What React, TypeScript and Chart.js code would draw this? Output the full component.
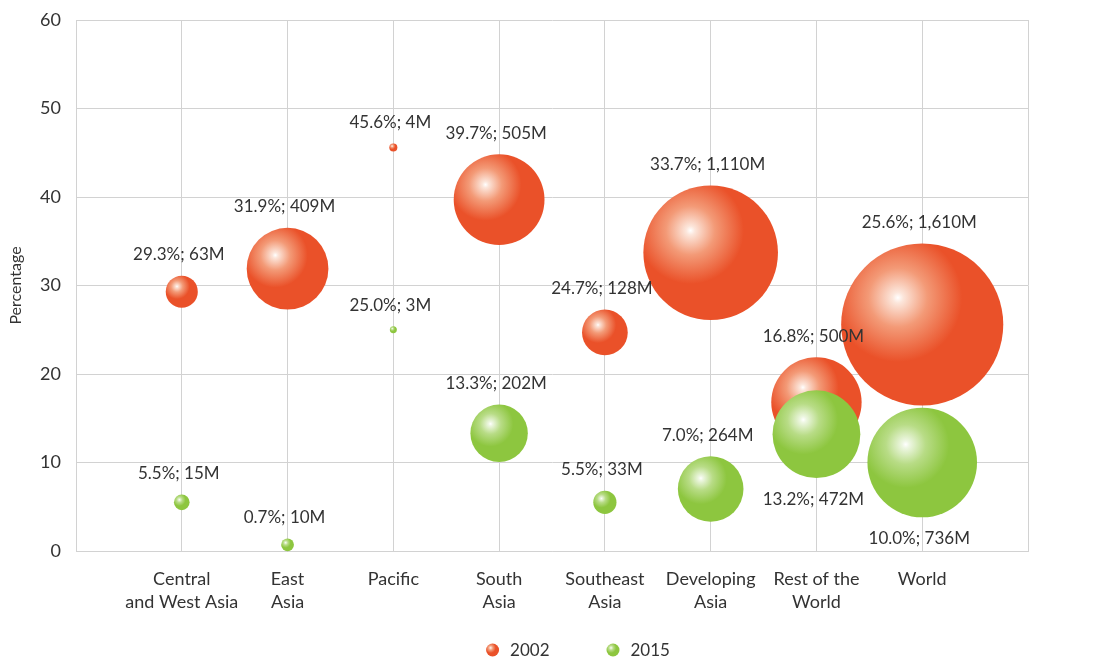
import React, { useEffect, useRef } from "react";
import { Chart, registerables } from "chart.js";

Chart.register(...registerables);

const categories: string[][] = [
  ["Central", "and West Asia"],
  ["East", "Asia"],
  ["Pacific"],
  ["South", "Asia"],
  ["Southeast", "Asia"],
  ["Developing", "Asia"],
  ["Rest of the", "World"],
  ["World"],
];
const pct2002 = [29.3, 31.9, 45.6, 39.7, 24.7, 33.7, 16.8, 25.6];
const pop2002 = [63, 409, 4, 505, 128, 1110, 500, 1610];
const pct2015 = [5.5, 0.7, 25.0, 13.3, 5.5, 7.0, 13.2, 10.0];
const pop2015 = [15, 10, 3, 202, 33, 264, 472, 736];
const yTicks = [0, 10, 20, 30, 40, 50, 60];
const seriesNames = ["2002", "2015"];

const RED = "#EA5129";
const GREEN = "#8DC63F";
const RED_STOPS = ["#FFFFFF", "#FCE6DB", "#F39A77", RED];
const GREEN_STOPS = ["#FFFFFF", "#EEF7E3", "#B8DC86", GREEN];
const FONT = "Lato, 'Open Sans', sans-serif";
const TEXT = "#333333";
const GRID = "#D2D2D2";

// labels drawn under the bubble instead of over it (series index -> category indexes)
const labelsBelow: Record<number, number[]> = { 1: [6, 7] };

const bubbleRadius = (pop: number) => 2.02 * Math.sqrt(pop);

function makeGradient(ctx: CanvasRenderingContext2D, x: number, y: number, r: number, stops: string[]) {
  const base = stops[stops.length - 1];
  if (![x, y, r].every((v) => Number.isFinite(v)) || r <= 0) return base;
  const gx = x - 0.3 * r;
  const gy = y - 0.33 * r;
  const g = ctx.createRadialGradient(gx, gy, 0, gx, gy, r * 1.1);
  g.addColorStop(0, stops[0]);
  g.addColorStop(0.06, stops[1]);
  g.addColorStop(0.33, stops[2]);
  g.addColorStop(0.72, base);
  g.addColorStop(1, base);
  return g;
}

function scriptableBg(stops: string[]) {
  const base = stops[stops.length - 1];
  return (c: any) => {
    if (c.type !== "data" || !c.raw) return base;
    const chart = c.chart;
    const xs = chart.scales && chart.scales.x;
    const ys = chart.scales && chart.scales.y;
    if (!xs || !ys) return base;
    const px = xs.getPixelForValue(c.raw.x);
    const py = ys.getPixelForValue(c.raw.y);
    return makeGradient(chart.ctx, px, py, c.raw.r, stops);
  };
}

const fmtLabel = (p: number, pop: number) => `${p.toFixed(1)}%; ${pop.toLocaleString("en-US")}M`;

const labelPlugin = {
  id: "bubbleLabels",
  afterDatasetsDraw(chart: any) {
    const ctx = chart.ctx as CanvasRenderingContext2D;
    ctx.save();
    ctx.font = `17px ${FONT}`;
    ctx.fillStyle = TEXT;
    ctx.textAlign = "center";
    ctx.textBaseline = "middle";
    const sets = [
      { pct: pct2002, pop: pop2002 },
      { pct: pct2015, pop: pop2015 },
    ];
    sets.forEach((s, di) => {
      const meta = chart.getDatasetMeta(di);
      meta.data.forEach((el: any, i: number) => {
        const r = bubbleRadius(s.pop[i]);
        const below = (labelsBelow[di] || []).includes(i);
        const gap = 21;
        const y = below ? el.y + r + gap : el.y - r - gap;
        ctx.fillText(fmtLabel(s.pct[i], s.pop[i]), el.x - 3, y);
      });
    });
    ctx.restore();
  },
};

const legendPlugin = {
  id: "customLegend",
  afterDraw(chart: any) {
    const ctx = chart.ctx as CanvasRenderingContext2D;
    ctx.save();
    ctx.font = `17px ${FONT}`;
    ctx.textBaseline = "middle";
    const stops = [RED_STOPS, GREEN_STOPS];
    const y = 650;
    const circleW = 13;
    const gapIcon = 11;
    const gapItems = 57;
    let total = 0;
    seriesNames.forEach((n, i) => {
      total += circleW + gapIcon + ctx.measureText(n).width + (i < seriesNames.length - 1 ? gapItems : 0);
    });
    let x = (chart.width - total) / 2 + 18;
    seriesNames.forEach((n, i) => {
      const r = 6.5;
      const cx = x + r;
      ctx.beginPath();
      ctx.arc(cx, y, r, 0, Math.PI * 2);
      ctx.fillStyle = makeGradient(ctx, cx, y, r, stops[i]) as any;
      ctx.fill();
      ctx.fillStyle = TEXT;
      ctx.textAlign = "left";
      ctx.fillText(n, x + circleW + gapIcon, y + 1);
      x += circleW + gapIcon + ctx.measureText(n).width + gapItems;
    });
    ctx.restore();
  },
};

export default function App() {
  const ref = useRef<HTMLCanvasElement | null>(null);
  useEffect(() => {
    if (!ref.current) return;
    const chart = new Chart(ref.current, {
      type: "bubble",
      data: {
        datasets: [
          {
            label: seriesNames[0],
            data: pct2002.map((p, i) => ({ x: i, y: p, r: bubbleRadius(pop2002[i]) })),
            backgroundColor: scriptableBg(RED_STOPS),
            borderWidth: 0,
            order: 1,
            clip: false as any,
          },
          {
            label: seriesNames[1],
            data: pct2015.map((p, i) => ({ x: i, y: p, r: bubbleRadius(pop2015[i]) })),
            backgroundColor: scriptableBg(GREEN_STOPS),
            borderWidth: 0,
            order: 0,
            clip: false as any,
          },
        ],
      },
      options: {
        responsive: false,
        animation: false,
        events: [],
        layout: { autoPadding: false, padding: { top: 0, right: 92, bottom: 0, left: 0 } },
        plugins: {
          legend: { display: false },
          tooltip: { enabled: false },
        },
        scales: {
          x: {
            type: "linear",
            min: -1,
            max: 8,
            afterBuildTicks: (s: any) => {
              s.ticks = Array.from({ length: 10 }, (_, k) => ({ value: k - 1 }));
            },
            afterFit: (s: any) => {
              s.height = 108;
              s.paddingLeft = 0;
              s.paddingRight = 0;
              s.paddingTop = 0;
              s.paddingBottom = 0;
            },
            grid: { color: GRID, drawTicks: false, lineWidth: 1 },
            border: { color: GRID },
            ticks: {
              padding: 17,
              color: TEXT,
              font: { family: FONT, size: 18, lineHeight: 1.28 },
              maxRotation: 0,
              autoSkip: false,
              callback: (v: any) => {
                const i = Number(v);
                return i >= 0 && i < categories.length ? categories[i] : "";
              },
            },
          },
          y: {
            min: 0,
            max: 60,
            afterBuildTicks: (s: any) => {
              s.ticks = yTicks.map((v) => ({ value: v }));
            },
            afterFit: (s: any) => {
              s.width = 76;
              s.paddingTop = 20;
              s.paddingBottom = 0;
              s.paddingLeft = 0;
              s.paddingRight = 0;
            },
            grid: { color: GRID, drawTicks: false, lineWidth: 1 },
            border: { color: GRID },
            ticks: {
              padding: 15,
              color: TEXT,
              font: { family: FONT, size: 18 },
            },
            title: {
              display: true,
              text: "Percentage",
              color: TEXT,
              font: { family: FONT, size: 16 },
              padding: { top: 6, bottom: 0 },
            },
          },
        },
      },
      plugins: [labelPlugin, legendPlugin],
    });
    return () => chart.destroy();
  }, []);
  return (
    <div style={{ position: "absolute", left: 0, top: 0, width: 1120, height: 659, background: "#fff" }}>
      <canvas ref={ref} width={1120} height={659} style={{ display: "block" }} />
    </div>
  );
}
